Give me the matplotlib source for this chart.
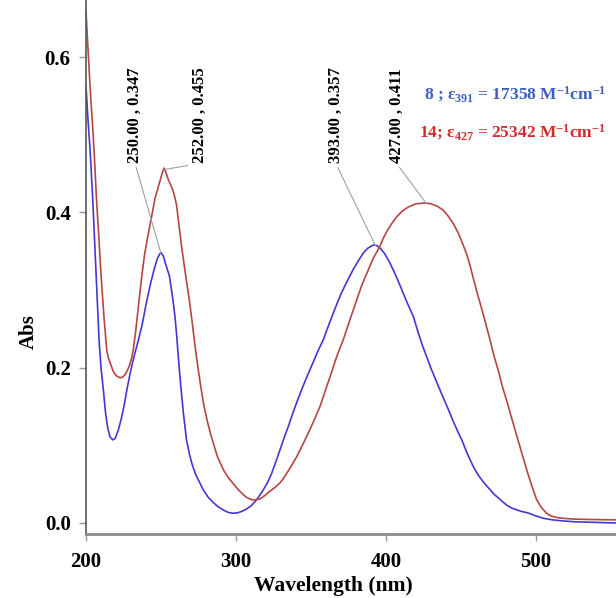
import matplotlib
matplotlib.use("Agg")
import matplotlib.pyplot as plt

# ---------------- data ----------------
wl_8 = [200, 201.3, 202.7, 204.5, 206.5, 208.7, 210, 211.6, 213, 214.5, 216, 217.8, 219.5,
        221.6, 223.5, 225.5, 227.5, 230, 232.5, 235, 237.5, 240.4, 243, 245.5, 247.5, 249,
        250, 251.5, 253.3, 255.5, 257, 258.3, 259.3, 260.5, 261.5, 263, 265, 267, 269, 271,
        273, 275.5, 278.2, 281.5, 285, 288, 291.5, 295, 298, 301, 304, 307, 310, 312.5,
        314.9, 318, 321, 323.8, 327.5, 331.6, 335, 338, 341, 343.8, 347, 351, 354.5, 358.2,
        362, 366, 370, 374, 378, 382, 385, 388, 391.6, 394, 396.5, 399, 402, 405, 408, 411,
        414, 418.2, 421, 424, 427.1, 430, 433, 436, 438.9, 442, 445, 448, 450.5, 454, 458.2,
        461, 464, 467, 469.3, 472, 475, 478, 480.4, 484, 487, 490, 494.5, 500, 505, 511, 518,
        526, 535, 553]
abs_8 = [0.563, 0.520, 0.481, 0.417, 0.330, 0.236, 0.200, 0.171, 0.142, 0.122, 0.111, 0.107, 0.109,
         0.120, 0.134, 0.152, 0.174, 0.198, 0.218, 0.236, 0.256, 0.285, 0.308, 0.327, 0.340, 0.346,
         0.348, 0.344, 0.332, 0.319, 0.300, 0.282, 0.266, 0.240, 0.215, 0.180, 0.140, 0.107, 0.088, 0.074,
         0.063, 0.053, 0.0425, 0.033, 0.026, 0.021, 0.0167, 0.0135, 0.0125, 0.013, 0.015, 0.018, 0.022, 0.027,
         0.033, 0.042, 0.052, 0.064, 0.084, 0.107, 0.125, 0.142, 0.158, 0.172, 0.187, 0.205, 0.221, 0.236,
         0.256, 0.276, 0.295, 0.311, 0.326, 0.339, 0.348, 0.354, 0.358, 0.357, 0.353, 0.347, 0.337, 0.325, 0.312, 0.298,
         0.284, 0.266, 0.248, 0.230, 0.214, 0.199, 0.185, 0.171, 0.158, 0.144, 0.130, 0.117, 0.107, 0.090, 0.0725,
         0.063, 0.055, 0.048, 0.043, 0.037, 0.032, 0.027, 0.023, 0.019, 0.017, 0.015, 0.013, 0.009, 0.006, 0.004, 0.0026,
         0.0015, 0.001, 0.0]

wl_14 = [200, 201.5, 203, 204.3, 205.5, 207, 208.5, 210, 212, 213.8, 215, 216.5, 218.2, 220,
         221.5, 223, 224.5, 226, 227.5, 229, 230.4, 231.5, 233, 235, 237, 239, 241, 243.8,
         246, 248.2, 250, 251, 252, 253.2, 254.9, 256.5, 258, 259.3, 260.4, 262, 264, 266.5,
         268.9, 271, 273, 275, 276.8, 278.7, 281, 283, 285.3, 287.6, 290, 292, 295, 298, 301,
         304, 307, 310.5, 313, 316, 319, 322, 325.5, 329, 331.5, 333.8, 337, 340.4, 344, 348,
         352, 356, 359.5, 363, 367.1, 371.5, 376, 380.4, 384, 388, 391.5, 395.6, 398, 401, 404,
         407, 411, 415, 420, 426, 430, 434, 438, 441.5, 445, 448, 451, 454, 456.2, 458.2, 460.5,
         462.7, 466, 469.3, 472, 475, 477.5, 480.4, 483, 486, 489, 492, 494.5, 497.5, 500.4,
         503.5, 507, 510, 514, 518, 525, 535, 553]
abs_14 = [0.658, 0.605, 0.552, 0.515, 0.475, 0.417, 0.370, 0.320, 0.265, 0.223, 0.212, 0.204, 0.195, 0.190,
          0.188, 0.187, 0.188, 0.191, 0.196, 0.203, 0.212, 0.223, 0.245, 0.280, 0.315, 0.345, 0.367, 0.395,
          0.418, 0.433, 0.445, 0.452, 0.457, 0.452, 0.442, 0.435, 0.428, 0.419, 0.409, 0.383, 0.352, 0.318,
          0.287, 0.255, 0.223, 0.195, 0.172, 0.150, 0.130, 0.115, 0.100, 0.0855, 0.075, 0.067, 0.058, 0.051, 0.044,
          0.038, 0.033, 0.030, 0.0296, 0.031, 0.035, 0.040, 0.045, 0.051, 0.057, 0.064, 0.074, 0.085, 0.099, 0.115,
          0.132, 0.150, 0.170, 0.190, 0.214, 0.236, 0.262, 0.287, 0.307, 0.325, 0.341, 0.355, 0.366, 0.377, 0.386,
          0.394, 0.402, 0.407, 0.411, 0.412, 0.411, 0.408, 0.403, 0.395, 0.385, 0.374, 0.360, 0.345, 0.330, 0.315, 0.298,
          0.283, 0.260, 0.236, 0.215, 0.195, 0.176, 0.158, 0.140, 0.120, 0.100, 0.080, 0.064, 0.046, 0.030,
          0.020, 0.0125, 0.009, 0.007, 0.006, 0.005, 0.0045, 0.004]

peak_wl = [250.00, 252.00, 393.00, 427.00]
peak_abs = [0.347, 0.455, 0.357, 0.411]

legend_labels = ["8 ; ε$_{391}$ = 17358 M$^{-1}$cm$^{-1}$",
                 "14; ε$_{427}$ = 25342 M$^{-1}$cm$^{-1}$"]
x_ticks = [200, 300, 400, 500]
y_ticks = [0.0, 0.2, 0.4, 0.6]

# ---------------- style ----------------
plt.rcParams['font.family'] = ['Liberation Serif', 'DejaVu Serif']
plt.rcParams['font.weight'] = 'bold'
plt.rcParams['mathtext.fontset'] = 'custom'
plt.rcParams['mathtext.rm'] = 'Liberation Serif:bold'
plt.rcParams['mathtext.it'] = 'Liberation Serif:bold'
plt.rcParams['mathtext.bf'] = 'Liberation Serif:bold'

BLUE = '#4338d6'
RED = '#b84444'
BLUE_TXT = '#3d5fc4'
RED_TXT = '#d22a2a'

fig = plt.figure(figsize=(6.16, 5.98), dpi=100)
ax = fig.add_axes([86/616, 64/598, 530/616, 534/598])

ax.plot(wl_8, abs_8, color=BLUE, lw=1.2)
ax.plot(wl_14, abs_14, color=RED, lw=1.2)

ax.set_xlim(200, 553.3)
ax.set_ylim(-0.0142, 0.6734)

for s in ['top', 'right']:
    ax.spines[s].set_visible(False)
ax.spines['left'].set_color('#555555')
ax.spines['left'].set_linewidth(1.2)
ax.spines['bottom'].set_color('#8a8a8a')
ax.spines['bottom'].set_linewidth(2.0)

ax.set_xticks(x_ticks)
ax.set_yticks(y_ticks)
ax.set_xticklabels([f"{v:d}" for v in x_ticks])
ax.set_yticklabels([f"{v:.1f}" for v in y_ticks])
ax.tick_params(axis='both', direction='out', color='#9a9a9a', length=5, width=1,
               labelsize=15)
ax.tick_params(axis='x', pad=8)
ax.tick_params(axis='y', pad=6)

ax.set_xlabel("Wavelength (nm)", fontsize=15.5, fontweight='bold')
ax.xaxis.set_label_coords(0.466, -0.079)
ax.set_ylabel("Abs", fontsize=15, fontweight='bold')
ax.yaxis.set_label_coords(-0.089, 0.38)

# peak annotations
text_x = [232.7, 276.0, 366.5, 407.0]
for px, py, tx in zip(peak_wl, peak_abs, text_x):
    ax.annotate(f"{px:.2f} , {py:.3f}", xy=(px, py), xytext=(tx, 0.463),
                rotation=90, ha='center', va='bottom', fontsize=12, fontweight='bold',
                annotation_clip=False,
                arrowprops=dict(arrowstyle='-', color='#a0a0a0', lw=0.8,
                                shrinkA=1, shrinkB=0, relpos=(0.5, 0.0)))

# legend-like labels
ax.text(425.5, 0.545, legend_labels[0], color=BLUE_TXT, fontsize=12.5, fontweight='bold',
        ha='left', va='baseline', clip_on=False)
ax.text(422.0, 0.497, legend_labels[1], color=RED_TXT, fontsize=12.5, fontweight='bold',
        ha='left', va='baseline', clip_on=False)

fig.savefig("out.png", dpi=100)
